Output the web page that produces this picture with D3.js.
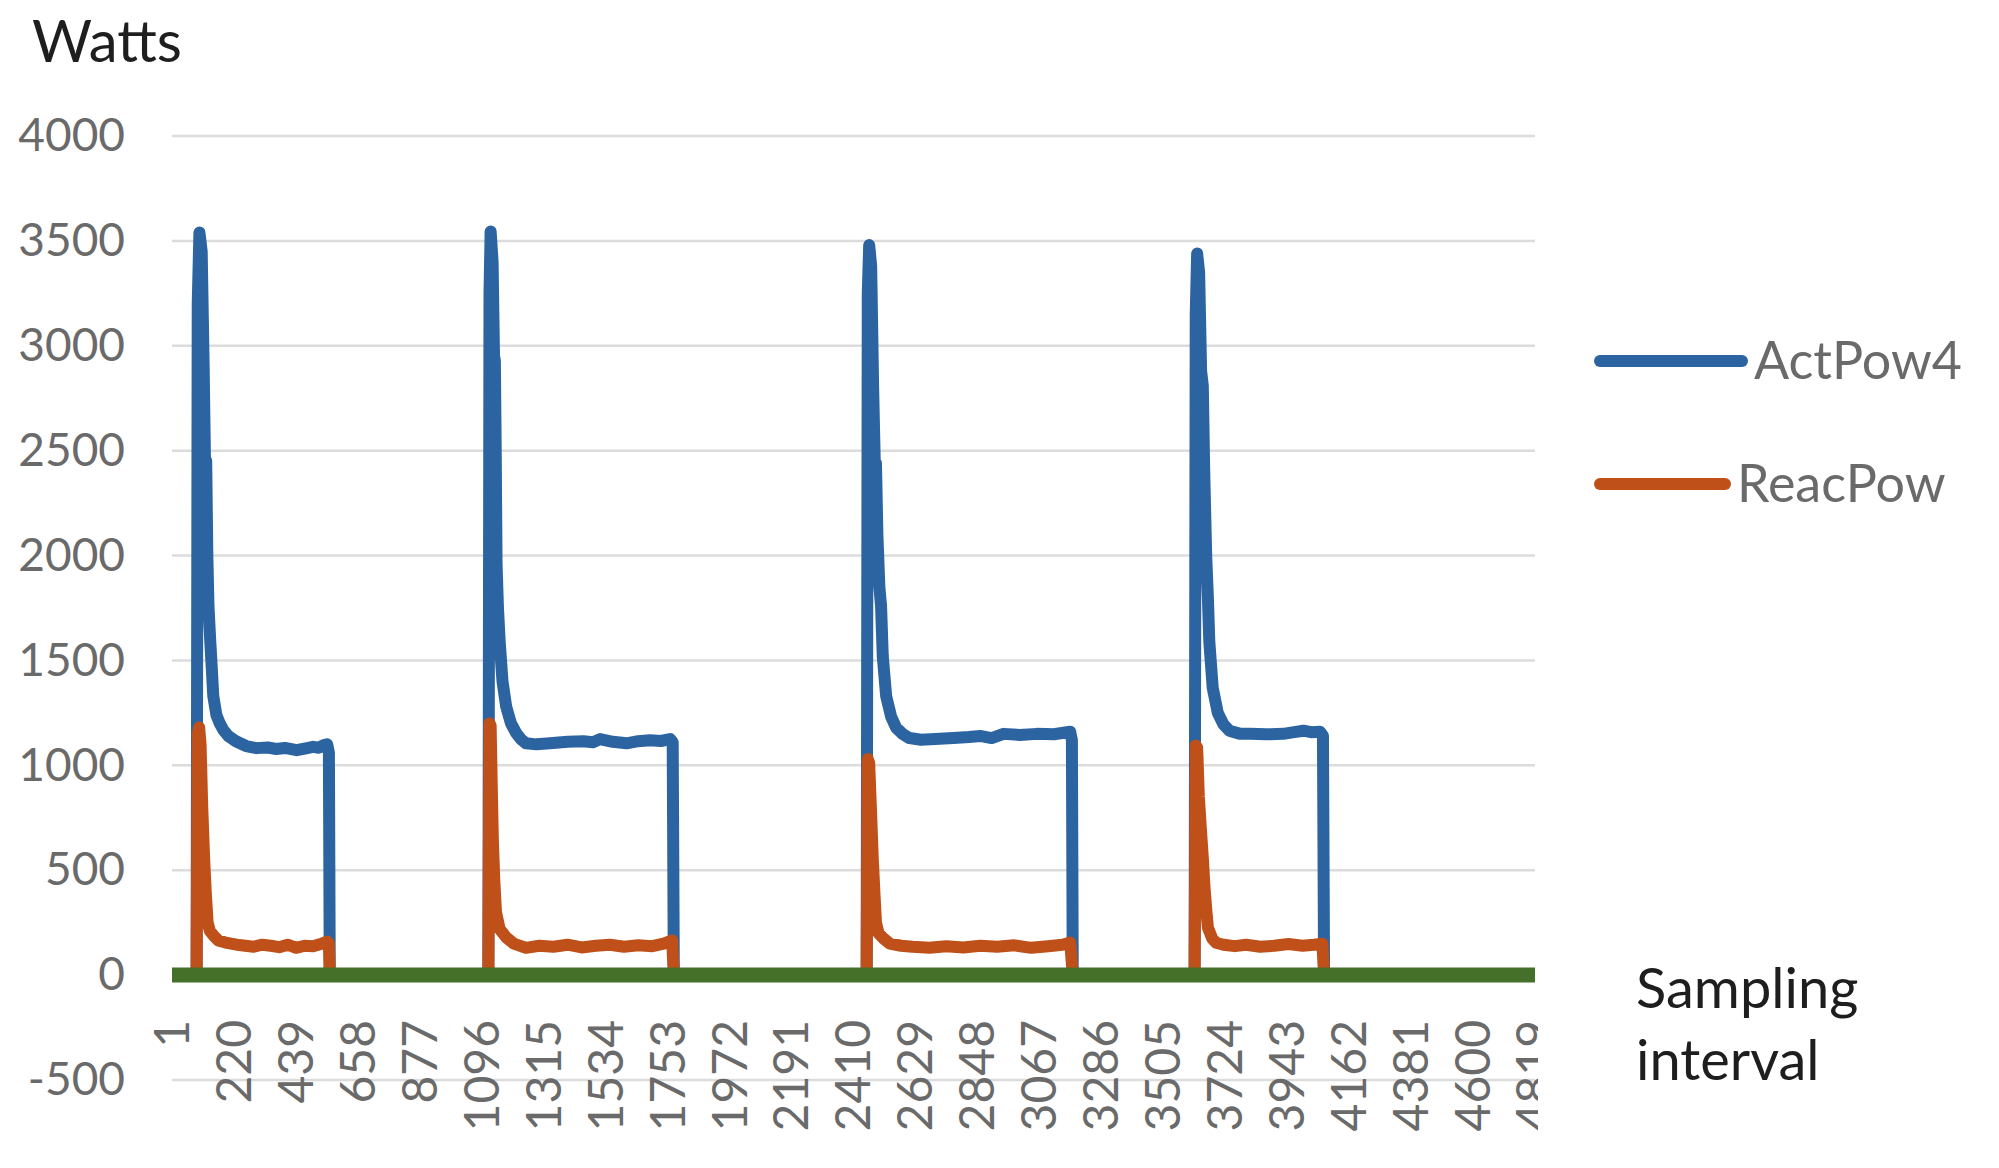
<!DOCTYPE html>
<html>
<head>
<meta charset="utf-8">
<script src="https://cdn.jsdelivr.net/npm/d3@7"></script>
<style>
  body { margin: 0; background: #fff; }
  svg { display: block; font-family: Lato, "Noto Sans", sans-serif; }
</style>
</head>
<body>
<svg id="chart" width="1999" height="1168"></svg>
<script>
"use strict";

// sample index / watts pairs
var actPow4 = [
    [1, 0], [88, 0],
    [92, 3200], [98, 3540], [106, 3450], [113, 2900], [118, 2420], [122, 2450], [126, 2000],
    [130, 1760], [136, 1600], [141, 1480], [147, 1330], [158, 1240], [170, 1200], [182, 1170],
    [200, 1140], [227, 1115], [263, 1092], [300, 1082], [340, 1085], [370, 1078], [400, 1083],
    [442, 1072], [470, 1080], [500, 1088], [520, 1084], [536, 1095], [550, 1100], [556, 1060], [559, 0],
    [1120, 0],
    [1124, 3250], [1128, 3545], [1135, 3400], [1140, 2950], [1143, 2930], [1146, 2500], [1149, 1960],
    [1154, 1750], [1160, 1590], [1170, 1400], [1183, 1280], [1200, 1200], [1218, 1155], [1235, 1125],
    [1253, 1105], [1290, 1100], [1338, 1105], [1400, 1112], [1456, 1115], [1490, 1110], [1515, 1125],
    [1560, 1112], [1609, 1105], [1650, 1115], [1692, 1120], [1730, 1116], [1763, 1125], [1772, 1110], [1776, 0],
    [2458, 0],
    [2462, 3250], [2467, 3480], [2474, 3380], [2481, 2800], [2487, 2430], [2491, 2440], [2496, 2100],
    [2503, 1850], [2509, 1760], [2515, 1520], [2527, 1330], [2545, 1230], [2562, 1180], [2585, 1150],
    [2609, 1130], [2650, 1122], [2700, 1125], [2765, 1130], [2820, 1135], [2859, 1140], [2900, 1130],
    [2942, 1150], [3000, 1145], [3060, 1150], [3120, 1148], [3178, 1160], [3184, 1120], [3187, 0],
    [3618, 0],
    [3622, 3150], [3627, 3440], [3634, 3350], [3641, 2880], [3647, 2810], [3652, 2400], [3659, 2000],
    [3665, 1800], [3670, 1590], [3682, 1370], [3700, 1250], [3720, 1195], [3741, 1165], [3780, 1150],
    [3814, 1150], [3870, 1148], [3932, 1150], [3970, 1158], [4003, 1165], [4030, 1158], [4062, 1160],
    [4072, 1140], [4076, 0],
    [4822, 0]
];

var reacPow = [
    [1, 0], [88, 0],
    [92, 1150], [97, 1180], [102, 1100], [108, 800], [115, 544], [121, 380], [127, 250], [135, 210],
    [150, 185], [165, 165], [190, 155], [230, 145], [260, 140], [290, 135], [320, 145], [350, 140],
    [380, 133], [410, 145], [440, 130], [470, 140], [500, 138], [530, 150], [550, 160], [556, 150], [559, 0],
    [1120, 0],
    [1124, 1200], [1128, 1190], [1132, 900], [1136, 640], [1141, 450], [1147, 300], [1160, 220],
    [1183, 180], [1210, 150], [1253, 130], [1300, 140], [1350, 135], [1400, 145], [1450, 132],
    [1500, 140], [1550, 145], [1600, 135], [1650, 142], [1700, 138], [1740, 150], [1770, 165], [1776, 0],
    [2458, 0],
    [2462, 1030], [2467, 1010], [2473, 800], [2480, 544], [2486, 380], [2491, 250], [2500, 200],
    [2515, 178], [2540, 150], [2580, 140], [2620, 135], [2680, 130], [2740, 138], [2800, 132],
    [2860, 140], [2920, 135], [2980, 142], [3040, 130], [3100, 138], [3150, 145], [3178, 155], [3187, 0],
    [3618, 0],
    [3622, 1095], [3627, 1085], [3633, 850], [3640, 700], [3647, 560], [3653, 420], [3660, 300],
    [3665, 227], [3680, 175], [3694, 154], [3720, 145], [3760, 138], [3800, 145], [3850, 135],
    [3900, 140], [3950, 148], [4000, 140], [4040, 145], [4070, 150], [4076, 0],
    [4822, 0]
];

// third series, flat at zero over the whole run
var zeroSeries = [[1, 0], [4822, 0]];

var xTicks = [1, 220, 439, 658, 877, 1096, 1315, 1534, 1753, 1972, 2191, 2410, 2629, 2848,
    3067, 3286, 3505, 3724, 3943, 4162, 4381, 4600, 4819];
var yTicks = [-500, 0, 500, 1000, 1500, 2000, 2500, 3000, 3500, 4000];

var legendItems = [
    { name: "ActPow4", color: "#2c64a1" },
    { name: "ReacPow", color: "#bf5019" }
];

var svg = d3.select("#chart");

var x = d3.scaleLinear().domain([1, 4822]).range([172, 1535]);
var y = d3.scaleLinear().domain([-500, 4000]).range([1080, 136]);

// plain numbers, hyphen minus like the original
var fmt = d => String(d);

// gridlines
svg.append("g")
    .selectAll("line")
    .data(yTicks)
    .enter().append("line")
    .attr("x1", 172).attr("x2", 1535)
    .attr("y1", d => y(d)).attr("y2", d => y(d))
    .attr("stroke", "#dcdcdc")
    .attr("stroke-width", 2.5);

// y axis labels
var yAxis = d3.axisLeft(y).tickValues(yTicks).tickFormat(fmt).tickSize(0).tickPadding(0);
var gy = svg.append("g").attr("transform", "translate(125,0)").call(yAxis);
gy.select(".domain").remove();
gy.selectAll("text")
    .attr("fill", "#6a6a6a")
    .style("font-size", "46px")
    .style("font-family", "Lato, 'Noto Sans', sans-serif");

// x axis labels (rotated), clipped at the right edge of the plot
svg.append("clipPath").attr("id", "xclip")
    .append("rect").attr("x", 0).attr("y", 990).attr("width", 1538).attr("height", 178);

var xAxis = d3.axisBottom(x).tickValues(xTicks).tickFormat(fmt).tickSize(0).tickPadding(0);
var gx = svg.append("g")
    .attr("clip-path", "url(#xclip)")
    .append("g")
    .attr("transform", "translate(0,1020)")
    .call(xAxis);
gx.select(".domain").remove();
gx.selectAll("text")
    .attr("fill", "#6a6a6a")
    .attr("text-anchor", "end")
    .attr("y", 0)
    .attr("dy", "0.35em")
    .attr("transform", "rotate(-90)")
    .style("font-size", "48px")
    .style("font-family", "Lato, 'Noto Sans', sans-serif");

// series lines
var line = d3.line()
    .x(d => x(d[0]))
    .y(d => y(d[1]));

svg.append("path")
    .datum(actPow4)
    .attr("d", line)
    .attr("fill", "none")
    .attr("stroke", legendItems[0].color)
    .attr("stroke-width", 12)
    .attr("stroke-linejoin", "round");

svg.append("path")
    .datum(reacPow)
    .attr("d", line)
    .attr("fill", "none")
    .attr("stroke", legendItems[1].color)
    .attr("stroke-width", 12)
    .attr("stroke-linejoin", "round");

svg.append("path")
    .datum(zeroSeries)
    .attr("d", line)
    .attr("fill", "none")
    .attr("stroke", "#44702a")
    .attr("stroke-width", 15);

// axis titles
svg.append("text")
    .attr("x", 32).attr("y", 62)
    .attr("fill", "#1e1e1e")
    .style("font-size", "58px")
    .text("Watts");

var xTitle = svg.append("text")
    .attr("x", 1636).attr("y", 1008)
    .attr("fill", "#1e1e1e")
    .style("font-size", "56px");
xTitle.append("tspan").attr("x", 1636).text("Sampling");
xTitle.append("tspan").attr("x", 1636).attr("dy", 72).text("interval");

// legend
var legendLines = [[1600, 1742], [1600, 1725]];
var legendY = [361, 484];
var legend = svg.append("g")
    .selectAll("g")
    .data(legendItems)
    .enter().append("g");

legend.append("line")
    .attr("x1", (d, i) => legendLines[i][0])
    .attr("x2", (d, i) => legendLines[i][1])
    .attr("y1", (d, i) => legendY[i])
    .attr("y2", (d, i) => legendY[i])
    .attr("stroke", d => d.color)
    .attr("stroke-width", 12)
    .attr("stroke-linecap", "round");

legend.append("text")
    .attr("x", (d, i) => legendLines[i][1] + 12)
    .attr("y", (d, i) => legendY[i])
    .attr("dy", "0.35em")
    .attr("fill", "#6a6a6a")
    .style("font-size", "52px")
    .text(d => d.name);
</script>
</body>
</html>
